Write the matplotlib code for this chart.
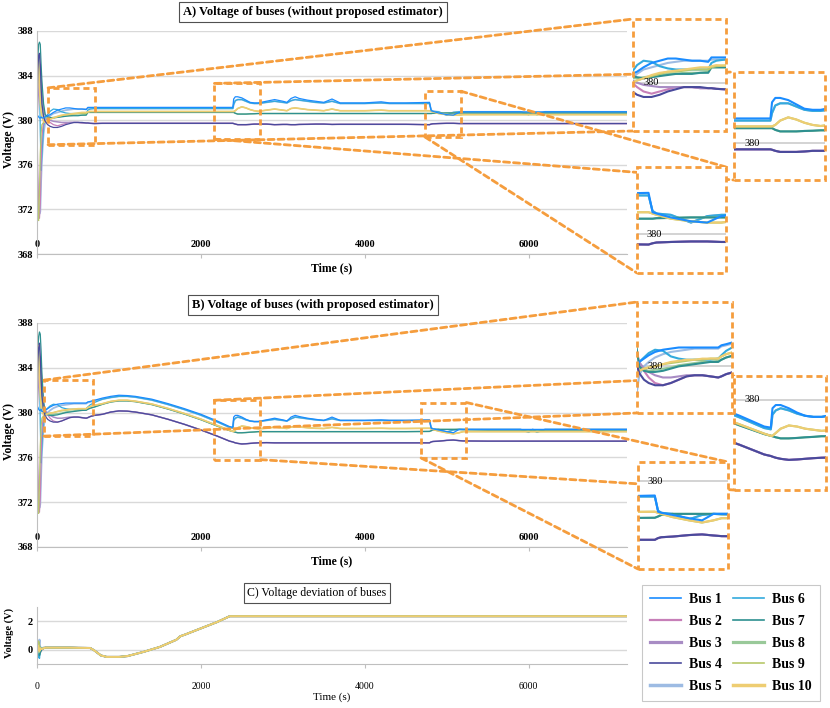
import matplotlib
matplotlib.use("Agg")
import matplotlib.pyplot as plt
from matplotlib.patches import Rectangle, ConnectionPatch
from matplotlib.lines import Line2D

plt.rcParams['font.family'] = ['Liberation Serif', 'DejaVu Serif']

# ---------------- data ----------------
bus_names = ['Bus 1', 'Bus 2', 'Bus 3', 'Bus 4', 'Bus 5',
             'Bus 6', 'Bus 7', 'Bus 8', 'Bus 9', 'Bus 10']
bus_group = ['blue', 'indigo', 'indigo', 'indigo', 'light',
             'light', 'teal', 'teal', 'yellow', 'yellow']

t_early = [0, 10, 20, 30, 40, 50, 60, 80, 100, 130, 160, 200, 250, 300, 350,
           400, 450, 500, 550, 600, 620, 650, 700]
t_late = [800, 900, 1000, 1100, 1200, 1400, 1600, 1800, 2000, 2200, 2350, 2390,
          2400, 2420, 2450, 2500, 2550, 2600, 2650, 2700, 2800, 2900, 3000, 3050,
          3100, 3150, 3200, 3300, 3400, 3500, 3600, 3700, 4000, 4200, 4300, 4500,
          4790, 4810, 4830, 4900, 5000, 5080, 5150, 5200, 5500, 5900, 6000, 6050,
          6100, 6200, 7200]

# Panel A (without estimator): early transient per bus
A_bus1 = [380.3, 380.4, 380.3, 380.2, 380.2, 380.3, 380.2, 380.2, 380.3, 380.4, 380.5, 380.7, 380.9, 381.0, 381.1, 381.1, 381.05, 381.0, 381.0, 380.95, 381.15, 381.15, 381.15]
A_bus2 = [379.5, 375.0, 372.0, 371.2, 372.5, 376.0, 378.5, 379.8, 380.2, 380.0, 379.8, 379.6, 379.5, 379.6, 379.7, 379.8, 379.8, 379.8, 379.75, 379.75, 379.75, 379.72, 379.7]
A_bus3 = [380.0, 381.5, 383.0, 384.5, 385.0, 384.0, 382.5, 381.0, 380.4, 380.1, 380.0, 379.9, 379.85, 379.8, 379.8, 379.8, 379.8, 379.8, 379.75, 379.75, 379.75, 379.72, 379.7]
A_bus4 = [382.0, 384.5, 385.8, 386.0, 385.0, 383.0, 381.5, 380.3, 379.9, 379.6, 379.45, 379.35, 379.35, 379.45, 379.6, 379.7, 379.8, 379.8, 379.8, 379.75, 379.75, 379.72, 379.7]
A_bus5 = [376.0, 373.5, 372.0, 371.6, 371.8, 374.5, 376.5, 378.8, 379.8, 380.2, 380.4, 380.6, 380.7, 380.8, 380.9, 380.95, 381.0, 381.0, 381.0, 381.0, 381.05, 381.05, 381.05]
A_bus6 = [380.8, 383.5, 385.5, 384.0, 379.0, 375.5, 377.0, 379.5, 380.3, 380.5, 380.8, 381.0, 380.95, 380.75, 380.65, 380.6, 380.6, 380.6, 380.6, 380.6, 380.9, 381.0, 381.05]
A_bus7 = [383.0, 385.5, 386.8, 387.0, 386.8, 385.0, 383.5, 381.5, 380.5, 380.3, 380.25, 380.2, 380.25, 380.3, 380.35, 380.4, 380.4, 380.4, 380.45, 380.45, 380.7, 380.7, 380.7]
A_bus8 = [382.0, 384.5, 385.8, 385.0, 383.5, 382.0, 381.0, 380.4, 380.2, 380.2, 380.2, 380.25, 380.3, 380.35, 380.4, 380.4, 380.45, 380.45, 380.45, 380.5, 380.7, 380.7, 380.7]
A_bus9 = [378.0, 371.2, 371.0, 373.5, 377.0, 378.8, 379.6, 379.8, 379.9, 380.0, 380.1, 380.2, 380.3, 380.4, 380.5, 380.5, 380.55, 380.6, 380.6, 380.6, 380.7, 380.75, 380.78]
A_bus10 = [384.5, 385.8, 385.0, 383.0, 381.5, 380.8, 380.3, 379.9, 379.8, 380.0, 380.1, 380.2, 380.35, 380.45, 380.5, 380.55, 380.6, 380.65, 380.7, 380.7, 380.75, 380.8, 380.78]

# Panel A: later part per bus family
A_late_blue = [381.15, 381.15, 381.15, 381.15, 381.15, 381.15, 381.15, 381.15, 381.15, 381.15, 381.15, 381.15,
               381.9, 382.1, 382.1, 382.0, 381.8, 381.6, 381.55, 381.55, 381.7, 381.85, 381.7, 381.6, 381.95,
               382.1, 381.95, 381.8, 381.7, 381.6, 381.9, 381.55, 381.55, 381.65, 381.55, 381.55, 381.6,
               380.85, 380.8, 380.65, 380.5, 380.45, 380.7, 380.75, 380.75, 380.75, 380.75, 380.75, 380.75, 380.75, 380.75]
A_late_light = [381.05, 381.05, 381.05, 381.05, 381.05, 381.05, 381.05, 381.05, 381.05, 381.05, 381.05, 381.05,
                381.4, 381.75, 381.85, 381.85, 381.7, 381.55, 381.5, 381.5, 381.6, 381.7, 381.6, 381.55, 381.75,
                381.85, 381.8, 381.7, 381.6, 381.55, 381.7, 381.5, 381.5, 381.55, 381.5, 381.5, 381.5,
                380.9, 380.8, 380.75, 380.45, 380.7, 380.75, 380.75, 380.75, 380.75, 380.5, 380.75, 380.5, 380.75, 380.75]
A_late_teal = [380.7, 380.7, 380.7, 380.7, 380.7, 380.7, 380.7, 380.7, 380.7, 380.7, 380.7, 380.7,
               380.7, 380.62, 380.55, 380.55, 380.55, 380.57, 380.58, 380.6, 380.6, 380.6, 380.6, 380.6, 380.6,
               380.6, 380.6, 380.6, 380.6, 380.6, 380.6, 380.6, 380.6, 380.6, 380.6, 380.6, 380.6,
               380.6, 380.62, 380.63, 380.65, 380.65, 380.65, 380.65, 380.65, 380.65, 380.65, 380.65, 380.65, 380.65, 380.65]
A_late_yellow = [380.78, 380.78, 380.78, 380.78, 380.78, 380.78, 380.78, 380.78, 380.78, 380.78, 380.78, 380.78,
                 380.78, 380.85, 381.05, 381.2, 381.1, 380.95, 380.85, 380.8, 380.9, 381.0, 380.9, 380.85, 381.05,
                 381.1, 381.05, 380.95, 380.9, 380.85, 381.0, 380.85, 380.85, 380.9, 380.85, 380.85, 380.85,
                 380.8, 380.75, 380.6, 380.5, 380.45, 380.45, 380.5, 380.5, 380.5, 380.5, 380.5, 380.5, 380.5, 380.5]
A_late_indigo = [379.72, 379.72, 379.72, 379.72, 379.72, 379.72, 379.72, 379.72, 379.72, 379.72, 379.72, 379.72,
                 379.7, 379.65, 379.6, 379.6, 379.6, 379.62, 379.65, 379.65, 379.65, 379.6, 379.62, 379.62, 379.6,
                 379.6, 379.62, 379.63, 379.65, 379.65, 379.62, 379.63, 379.63, 379.63, 379.63, 379.63, 379.6,
                 379.65, 379.68, 379.7, 379.72, 379.72, 379.7, 379.7, 379.7, 379.7, 379.7, 379.7, 379.7, 379.7, 379.7]

# Panel B (with estimator): early transient per bus
B_bus1 = [380.4, 380.5, 380.3, 380.2, 380.2, 380.3, 380.1, 380.1, 380.2, 380.35, 380.5, 380.65, 380.75, 380.8, 380.85, 380.85, 380.85, 380.85, 380.85, 380.85, 380.95, 381.0, 381.1]
B_bus2 = [379.5, 375.0, 372.0, 371.1, 372.5, 376.0, 378.5, 379.8, 380.1, 379.8, 379.5, 379.25, 379.15, 379.25, 379.4, 379.55, 379.6, 379.6, 379.55, 379.5, 379.55, 379.65, 379.75]
B_bus3 = [380.0, 381.5, 383.0, 384.5, 385.0, 384.0, 382.5, 380.8, 380.2, 379.9, 379.75, 379.6, 379.5, 379.5, 379.55, 379.6, 379.6, 379.6, 379.55, 379.5, 379.55, 379.65, 379.75]
B_bus4 = [382.0, 384.5, 385.8, 386.2, 385.0, 383.0, 381.5, 380.2, 379.7, 379.4, 379.25, 379.15, 379.15, 379.25, 379.4, 379.55, 379.6, 379.6, 379.55, 379.5, 379.55, 379.65, 379.75]
B_bus5 = [376.0, 373.5, 372.0, 371.5, 371.8, 374.3, 376.5, 378.6, 379.6, 380.0, 380.2, 380.4, 380.55, 380.65, 380.7, 380.75, 380.8, 380.8, 380.8, 380.8, 380.9, 380.95, 381.05]
B_bus6 = [380.8, 383.5, 385.5, 384.0, 379.0, 375.5, 377.0, 379.5, 380.2, 380.4, 380.6, 380.75, 380.7, 380.45, 380.35, 380.3, 380.3, 380.3, 380.3, 380.35, 380.5, 380.7, 380.9]
B_bus7 = [383.0, 385.5, 386.8, 387.2, 387.0, 385.5, 383.5, 381.0, 380.0, 379.8, 379.75, 379.75, 379.8, 379.9, 380.0, 380.05, 380.1, 380.15, 380.2, 380.2, 380.3, 380.4, 380.5]
B_bus8 = [382.0, 384.5, 385.8, 385.2, 383.5, 382.0, 380.8, 380.0, 379.9, 379.85, 379.8, 379.85, 379.9, 379.95, 380.05, 380.1, 380.15, 380.2, 380.2, 380.25, 380.3, 380.4, 380.5]
B_bus9 = [378.0, 371.2, 371.0, 373.5, 377.0, 378.8, 379.5, 379.7, 379.8, 379.9, 379.95, 380.0, 380.1, 380.15, 380.2, 380.25, 380.3, 380.3, 380.35, 380.35, 380.45, 380.55, 380.65]
B_bus10 = [384.5, 386.0, 385.2, 383.0, 381.5, 380.6, 380.1, 379.8, 379.8, 379.9, 379.95, 380.0, 380.1, 380.2, 380.25, 380.3, 380.3, 380.35, 380.35, 380.35, 380.45, 380.55, 380.65]

# Panel B: later part per bus family
B_late_blue = [381.3, 381.45, 381.55, 381.52, 381.45, 381.2, 380.8, 380.35, 379.85, 379.25, 378.75, 378.7,
               379.6, 379.75, 379.75, 379.6, 379.4, 379.25, 379.2, 379.2, 379.35, 379.5, 379.35, 379.25, 379.6,
               379.75, 379.65, 379.5, 379.4, 379.3, 379.6, 379.3, 379.3, 379.35, 379.3, 379.3, 379.35,
               378.6, 378.55, 378.45, 378.3, 378.2, 378.5, 378.5, 378.5, 378.5, 378.5, 378.5, 378.5, 378.5, 378.5]
B_late_light = [381.2, 381.35, 381.45, 381.45, 381.38, 381.12, 380.72, 380.27, 379.77, 379.17, 378.68, 378.62,
                379.3, 379.5, 379.6, 379.5, 379.35, 379.25, 379.2, 379.2, 379.3, 379.4, 379.3, 379.25, 379.45,
                379.6, 379.55, 379.45, 379.35, 379.3, 379.45, 379.3, 379.3, 379.3, 379.3, 379.3, 379.3,
                378.65, 378.55, 378.5, 378.25, 378.45, 378.5, 378.5, 378.5, 378.5, 378.25, 378.5, 378.25, 378.5, 378.5]
B_late_teal = [380.75, 380.95, 381.05, 381.05, 380.98, 380.72, 380.32, 379.87, 379.37, 378.8, 378.4, 378.32,
               378.3, 378.25, 378.2, 378.2, 378.22, 378.25, 378.27, 378.3, 378.3, 378.3, 378.3, 378.3, 378.3,
               378.3, 378.3, 378.3, 378.3, 378.3, 378.3, 378.3, 378.3, 378.3, 378.3, 378.3, 378.32,
               378.38, 378.45, 378.5, 378.5, 378.5, 378.5, 378.48, 378.45, 378.45, 378.45, 378.45, 378.45, 378.45, 378.45]
B_late_yellow = [380.8, 381.0, 381.1, 381.1, 381.02, 380.77, 380.37, 379.92, 379.42, 378.85, 378.42, 378.32,
                 378.32, 378.45, 378.65, 378.8, 378.75, 378.65, 378.6, 378.55, 378.6, 378.7, 378.62, 378.58, 378.7,
                 378.75, 378.72, 378.65, 378.6, 378.58, 378.68, 378.58, 378.58, 378.6, 378.58, 378.58, 378.6,
                 378.55, 378.5, 378.35, 378.2, 378.1, 378.2, 378.3, 378.3, 378.3, 378.3, 378.3, 378.3, 378.3, 378.3]
B_late_indigo = [379.85, 380.05, 380.15, 380.13, 380.05, 379.8, 379.4, 378.95, 378.45, 377.9, 377.45, 377.38,
                 377.35, 377.3, 377.25, 377.2, 377.22, 377.25, 377.28, 377.3, 377.32, 377.3, 377.3, 377.3, 377.3,
                 377.3, 377.3, 377.3, 377.3, 377.3, 377.3, 377.3, 377.3, 377.3, 377.3, 377.3, 377.3,
                 377.38, 377.42, 377.45, 377.52, 377.55, 377.5, 377.47, 377.45, 377.45, 377.45, 377.45, 377.45, 377.45, 377.45]

# Panel C (voltage deviation)
c_t_early = [0, 10, 20, 30, 40, 60, 80, 100]
c_t_late = [130, 300, 350, 400, 600, 650, 700, 780, 850, 1000, 1100, 1300, 1500, 1700, 1750,
            1800, 2000, 2200, 2350, 7200]
C_bus1 = [0.0, 0.05, -0.1, 0.2, 0.1, 0.05, 0.1, 0.15]
C_bus2 = [0.0, -0.3, 0.4, 0.1, -0.2, 0.05, 0.1, 0.15]
C_bus3 = [0.0, 0.2, -0.3, 0.3, 0.1, 0.0, 0.1, 0.15]
C_bus4 = [0.0, 0.1, 0.2, -0.2, 0.15, 0.05, 0.1, 0.15]
C_bus5 = [0.0, -0.2, 0.3, 0.7, -0.1, 0.1, 0.15, 0.15]
C_bus6 = [0.0, 0.3, -0.5, -0.6, 0.2, 0.1, 0.1, 0.15]
C_bus7 = [0.0, 0.2, 0.5, -0.4, -0.2, 0.05, 0.1, 0.15]
C_bus8 = [0.0, 0.4, -0.2, 0.2, 0.1, 0.05, 0.1, 0.15]
C_bus9 = [0.0, 0.5, 0.6, 0.3, 0.0, 0.1, 0.12, 0.15]
C_bus10 = [0.0, 0.3, 0.1, -0.1, 0.1, 0.05, 0.1, 0.15]
C_late = [0.15, 0.15, 0.15, 0.15, 0.13, 0.12, -0.05, -0.4, -0.5, -0.5, -0.45, -0.15, 0.2, 0.7, 0.95,
          1.05, 1.5, 1.95, 2.35, 2.35]

v_ticks = [368, 372, 376, 380, 384, 388]
t_ticks = [0, 2000, 4000, 6000]
c_ticks = [0, 2]
inset_tick = 380

# ---------------- styles / layout ----------------
bus_colors = ['#1a8cff', '#c77fb8', '#a88cc4', '#4a4a9c', '#9dbbe3',
              '#33aadd', '#2e9090', '#99c999', '#b8c86a', '#eecd72']
main_lw = [0.9, 0.9, 1.1, 0.9, 1.3, 0.9, 0.9, 1.1, 0.9, 1.2]
legend_lw = [1.2, 1.6, 2.3, 1.2, 2.5, 1.2, 1.2, 2.3, 1.2, 2.5]
inset_lw = 1.5
draw_order = [4, 5, 1, 2, 7, 6, 8, 9, 3, 0]
ORANGE = '#f59d3d'
GRID = '#d9d9d9'
DASH = (0, (2.2, 1.4))
W, H = 830, 708

fig = plt.figure(figsize=(W / 100, H / 100), dpi=100)


def px_axes(x0, y0, x1, y1, **kw):
    return fig.add_axes([x0 / W, 1 - y1 / H, (x1 - x0) / W, (y1 - y0) / H], **kw)


A_early = [A_bus1, A_bus2, A_bus3, A_bus4, A_bus5, A_bus6, A_bus7, A_bus8, A_bus9, A_bus10]
B_early = [B_bus1, B_bus2, B_bus3, B_bus4, B_bus5, B_bus6, B_bus7, B_bus8, B_bus9, B_bus10]
A_late = {'blue': A_late_blue, 'light': A_late_light, 'teal': A_late_teal,
          'yellow': A_late_yellow, 'indigo': A_late_indigo}
B_late = {'blue': B_late_blue, 'light': B_late_light, 'teal': B_late_teal,
          'yellow': B_late_yellow, 'indigo': B_late_indigo}
C_early = [C_bus1, C_bus2, C_bus3, C_bus4, C_bus5, C_bus6, C_bus7, C_bus8, C_bus9, C_bus10]

t_full = t_early + t_late
A_series = [A_early[i] + A_late[bus_group[i]] for i in range(10)]
B_series = [B_early[i] + B_late[bus_group[i]] for i in range(10)]
c_t = c_t_early + c_t_late
C_series = [C_early[i] + C_late for i in range(10)]


def style_main(ax, ylim, yticks, xlabel_pad=-13):
    ax.set_xlim(0, 7200)
    ax.set_ylim(*ylim)
    ax.set_yticks(yticks)
    ax.set_xticks(t_ticks)
    ax.grid(axis='y', color=GRID, lw=1.0)
    ax.set_axisbelow(True)
    for sp in ['top', 'right']:
        ax.spines[sp].set_visible(False)
    for sp in ['left', 'bottom']:
        ax.spines[sp].set_color('#bfbfbf')
    ax.tick_params(axis='y', length=0, pad=3, labelsize=7.5)
    ax.tick_params(axis='x', length=3, color='#bfbfbf', pad=xlabel_pad, labelsize=7.5)
    for lab in ax.get_xticklabels() + ax.get_yticklabels():
        lab.set_fontweight('bold')


def draw_series(ax, t, series, widths):
    for i in draw_order:
        ax.plot(t, series[i], color=bus_colors[i], lw=widths[i],
                solid_joinstyle='round', solid_capstyle='round')


def add_inset(main, series, box_px, rng, corners):
    t0, t1, v0, v1 = rng
    main.add_patch(Rectangle((t0, v0), t1 - t0, v1 - v0, fill=False, ec=ORANGE,
                             lw=2.0, ls=DASH, zorder=6))
    ax = px_axes(*box_px, zorder=5)
    ax.set_facecolor('white')
    draw_series(ax, t_full, series, [inset_lw] * 10)
    ax.set_xlim(t0, t1)
    ax.set_ylim(v0, v1)
    ax.set_xticks([])
    ax.set_yticks([])
    for sp in ax.spines.values():
        sp.set_visible(False)
    ax.axhline(inset_tick, color='#d0d0d0', lw=1.3, zorder=0.5)
    ax.text(0.11, inset_tick, str(inset_tick), transform=ax.get_yaxis_transform(),
            fontsize=7.5, va='center', ha='left', zorder=10)
    ax.add_patch(Rectangle((0, 0), 1, 1, transform=ax.transAxes, fill=False, ec=ORANGE,
                           lw=2.0, ls=DASH, clip_on=False, zorder=20))
    pts = {'TL': ((t0, v1), (0, 1)), 'BL': ((t0, v0), (0, 0)),
           'TR': ((t1, v1), (1, 1)), 'BR': ((t1, v0), (1, 0))}
    for ca, cb in corners:
        con = ConnectionPatch(xyA=pts[ca][0], coordsA=main.transData,
                              xyB=pts[cb][1], coordsB=ax.transAxes,
                              color=ORANGE, lw=2.0, ls=DASH, zorder=3)
        fig.add_artist(con)
    return ax


def title_box(x, y, s, bold=True, size=9):
    fig.text(x / W, 1 - y / H, s, ha='center', va='center', fontsize=size,
             fontweight='bold' if bold else 'normal',
             bbox=dict(boxstyle='square,pad=0.3', fc='white', ec='#505050', lw=0.8))


def y_label(x, y, size):
    fig.text(x / W, 1 - y / H, 'Voltage (V)', ha='center', va='center', rotation=90,
             fontsize=size, fontweight='bold')


# ---------------- panel A ----------------
axA = px_axes(37, 31, 627, 254)
draw_series(axA, t_full, A_series, main_lw)
style_main(axA, (368, 388), v_ticks)
title_box(313, 12, 'A) Voltage of buses (without proposed estimator)')
fig.text(332 / W, 1 - 268 / H, 'Time (s)', ha='center', va='center', fontsize=8.5, fontweight='bold')
y_label(9, 140, 8.5)
add_inset(axA, A_series, (633, 19, 726, 131), (135, 710, 377.8, 382.9), [('TL', 'TL'), ('BL', 'BL')])
add_inset(axA, A_series, (734, 72, 825, 180), (2165, 2727, 378.3, 383.3), [('TL', 'TL'), ('BL', 'BL')])
add_inset(axA, A_series, (637, 167, 726, 273), (4733, 5173, 378.5, 382.6), [('TR', 'TR'), ('BL', 'BL')])

# ---------------- panel B ----------------
axB = px_axes(37, 323, 627, 547)
draw_series(axB, t_full, B_series, main_lw)
style_main(axB, (368, 388), v_ticks)
title_box(313, 305, 'B) Voltage of buses (with proposed estimator)')
fig.text(332 / W, 1 - 561 / H, 'Time (s)', ha='center', va='center', fontsize=8.5, fontweight='bold')
y_label(9, 432, 8.5)
add_inset(axB, B_series, (637, 302, 732, 413), (86, 687, 377.9, 382.9), [('TL', 'TL'), ('BL', 'BL')])
add_inset(axB, B_series, (734, 376, 826, 490), (2165, 2727, 375.8, 381.1), [('TL', 'TL'), ('BR', 'BL')])
add_inset(axB, B_series, (638, 462, 728, 569), (4687, 5239, 375.95, 380.9), [('TR', 'TR'), ('BL', 'BL')])

# ---------------- panel C ----------------
axC = px_axes(37, 607, 627, 664)
for i in range(10):
    axC.plot(c_t, C_series[i], color=bus_colors[i], lw=main_lw[i] * 1.2, solid_joinstyle='round')
axC.set_xlim(0, 7200)
axC.set_ylim(-1, 3)
axC.set_yticks(c_ticks)
axC.set_xticks(t_ticks)
axC.grid(axis='y', color=GRID, lw=1.0)
axC.set_axisbelow(True)
for sp in ['top', 'right']:
    axC.spines[sp].set_visible(False)
for sp in ['left', 'bottom']:
    axC.spines[sp].set_color('#bfbfbf')
axC.tick_params(axis='y', length=0, pad=3, labelsize=7.5)
axC.tick_params(axis='x', length=3, color='#bfbfbf', pad=10, labelsize=7)
for lab in axC.get_yticklabels():
    lab.set_fontweight('bold')
title_box(317, 593, 'C) Voltage deviation of buses', bold=False, size=8.5)
fig.text(332 / W, 1 - 697 / H, 'Time (s)', ha='center', va='center', fontsize=8)
y_label(9, 633, 7.5)

# ---------------- legend ----------------
handles = [Line2D([0], [0], color=bus_colors[i], lw=legend_lw[i]) for i in range(10)]
leg = fig.legend(handles, bus_names, ncol=2, loc='upper left',
                 bbox_to_anchor=(642 / W, 1 - 585 / H), frameon=True, fancybox=False,
                 edgecolor='#bbbbbb', prop={'size': 10, 'weight': 'bold'},
                 handlelength=2.2, handletextpad=0.6, columnspacing=0.8,
                 labelspacing=0.62, borderpad=0.6, borderaxespad=0)
leg.get_frame().set_linewidth(0.8)

fig.savefig('out.png', dpi=100)
